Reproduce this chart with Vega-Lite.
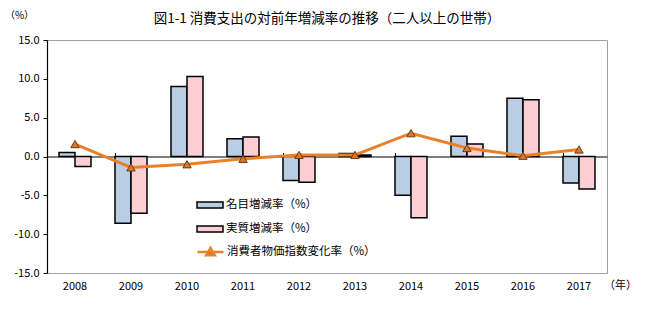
{
  "$schema": "https://vega.github.io/schema/vega-lite/v6.json",
  "width": 560,
  "height": 233,
  "autosize": "none",
  "padding": {"left": 47, "top": 40, "right": 53, "bottom": 49},
  "background": "white",
  "title": {
    "text": "図1-1  消費支出の対前年増減率の推移（二人以上の世帯）",
    "font": "Noto Sans CJK JP",
    "fontSize": 13.5,
    "fontWeight": "normal",
    "color": "black",
    "anchor": "middle",
    "frame": "group",
    "offset": -15
  },
  "config": {
    "view": {"stroke": "#A0A0A0", "strokeWidth": 1},
    "axis": {"labelFont": "Noto Sans CJK JP", "titleFont": "Noto Sans CJK JP", "labelColor": "black", "titleColor": "black", "grid": false, "labelOverlap": false},
    "legend": {"labelFont": "Noto Sans CJK JP", "labelFontSize": 11.5, "labelColor": "black", "padding": 0, "rowPadding": 10, "symbolSize": 169, "labelOffset": 8.5}
  },
  "datasets": {
    "bars": [
      {"year": "2008", "series": "名目増減率（%）", "value": 0.5},
      {"year": "2008", "series": "実質増減率（%）", "value": -1.3},
      {"year": "2009", "series": "名目増減率（%）", "value": -8.6},
      {"year": "2009", "series": "実質増減率（%）", "value": -7.3},
      {"year": "2010", "series": "名目増減率（%）", "value": 9.0},
      {"year": "2010", "series": "実質増減率（%）", "value": 10.3},
      {"year": "2011", "series": "名目増減率（%）", "value": 2.3},
      {"year": "2011", "series": "実質増減率（%）", "value": 2.5},
      {"year": "2012", "series": "名目増減率（%）", "value": -3.1},
      {"year": "2012", "series": "実質増減率（%）", "value": -3.3},
      {"year": "2013", "series": "名目増減率（%）", "value": 0.4},
      {"year": "2013", "series": "実質増減率（%）", "value": 0.2},
      {"year": "2014", "series": "名目増減率（%）", "value": -5.0},
      {"year": "2014", "series": "実質増減率（%）", "value": -7.9},
      {"year": "2015", "series": "名目増減率（%）", "value": 2.6},
      {"year": "2015", "series": "実質増減率（%）", "value": 1.6},
      {"year": "2016", "series": "名目増減率（%）", "value": 7.5},
      {"year": "2016", "series": "実質増減率（%）", "value": 7.3},
      {"year": "2017", "series": "名目増減率（%）", "value": -3.4},
      {"year": "2017", "series": "実質増減率（%）", "value": -4.2}
    ],
    "cpi": [
      {"year": "2008", "series": "消費者物価指数変化率（%）", "value": 1.6},
      {"year": "2009", "series": "消費者物価指数変化率（%）", "value": -1.4},
      {"year": "2010", "series": "消費者物価指数変化率（%）", "value": -1.0},
      {"year": "2011", "series": "消費者物価指数変化率（%）", "value": -0.3},
      {"year": "2012", "series": "消費者物価指数変化率（%）", "value": 0.2},
      {"year": "2013", "series": "消費者物価指数変化率（%）", "value": 0.2},
      {"year": "2014", "series": "消費者物価指数変化率（%）", "value": 3.0},
      {"year": "2015", "series": "消費者物価指数変化率（%）", "value": 1.1},
      {"year": "2016", "series": "消費者物価指数変化率（%）", "value": 0.1},
      {"year": "2017", "series": "消費者物価指数変化率（%）", "value": 0.9}
    ]
  },
  "layer": [
    {
      "data": {"name": "bars"},
      "mark": {"type": "bar", "stroke": "black", "strokeWidth": 1.5},
      "encoding": {
        "x": {
          "field": "year", "type": "nominal",
          "scale": {"paddingInner": 0.4286, "paddingOuter": 0.2143},
          "axis": {
            "orient": "bottom", "labelAngle": 0, "labelFontSize": 11, "labelPadding": 7,
            "ticks": false, "tickSize": 0, "domain": false,
            "title": "（年）", "titleFontSize": 11, "titleFontWeight": "normal",
            "titleX": 573, "titleY": 12, "titleAlign": "center", "titleBaseline": "middle", "titleAngle": 0
          }
        },
        "xOffset": {
          "field": "series", "type": "nominal",
          "sort": ["名目増減率（%）", "実質増減率（%）"],
          "scale": {"paddingInner": 0, "paddingOuter": 0}
        },
        "y": {
          "field": "value", "type": "quantitative",
          "scale": {"domain": [-15, 15], "nice": false, "zero": false},
          "axis": {
            "values": [-15, -10, -5, 0, 5, 10, 15],
            "labelExpr": "replace(format(datum.value, '.1f'), '−', '-')",
            "labelOverlap": false, "labelBound": false,
            "labelFontSize": 11, "labelPadding": 4, "tickSize": 4, "tickColor": "black",
            "domainColor": "black", "domainWidth": 1.2,
            "title": "（%）", "titleFontSize": 10, "titleFontWeight": "normal", "titleAngle": 0,
            "titleX": -28, "titleY": -25, "titleAlign": "center", "titleBaseline": "middle"
          }
        },
        "fill": {
          "field": "series", "type": "nominal",
          "scale": {"domain": ["名目増減率（%）", "実質増減率（%）"], "range": ["#B9CDE5", "#FBCFD3"]},
          "legend": {
            "title": null, "orient": "none", "legendX": 155.5, "legendY": 157.5,
            "symbolType": "M-2,-0.47H2V0.47H-2Z",
            "symbolStrokeColor": "black", "symbolStrokeWidth": 1.5, "symbolOpacity": 1
          }
        }
      }
    },
    {
      "data": {"name": "cpi"},
      "mark": {"type": "line", "strokeWidth": 3},
      "encoding": {
        "x": {"field": "year", "type": "nominal", "axis": null},
        "y": {
          "field": "value", "type": "quantitative",
          "axis": {
            "values": [-15, -10, -5, 0, 5, 10, 15],
            "labelExpr": "replace(format(datum.value, '.1f'), '−', '-')",
            "labelOverlap": false, "labelBound": false,
            "labelFontSize": 11, "labelPadding": 4, "tickSize": 4, "tickColor": "black",
            "domainColor": "black", "domainWidth": 1.2,
            "title": "（%）", "titleFontSize": 10, "titleFontWeight": "normal", "titleAngle": 0,
            "titleX": -28, "titleY": -25, "titleAlign": "center", "titleBaseline": "middle"
          }
        },
        "stroke": {
          "field": "series", "type": "nominal",
          "scale": {"domain": ["消費者物価指数変化率（%）"], "range": ["#E8822A"]},
          "legend": {
            "title": null, "orient": "none", "legendX": 155.5, "legendY": 204,
            "symbolType": "M-2,0H2M0,-0.62L0.66,0.5H-0.66Z",
            "symbolStrokeWidth": 2.5,
            "encode": {"symbols": {"update": {"fill": {"value": "#C8692A"}}}}
          }
        }
      }
    },
    {
      "data": {"name": "cpi"},
      "mark": {"type": "point", "shape": "triangle-up", "filled": true, "fill": "#D9772F", "stroke": "#6E3A12", "strokeWidth": 1, "size": 70, "opacity": 1},
      "encoding": {
        "x": {
          "field": "year", "type": "nominal",
          "axis": {
            "orient": "bottom", "offset": -116.5, "labels": false, "title": null,
            "domainColor": "black", "domainWidth": 1.2,
            "bandPosition": 0, "ticks": true, "tickSize": -4, "tickColor": "black", "tickWidth": 1
          }
        },
        "y": {
          "field": "value", "type": "quantitative",
          "axis": {
            "values": [-15, -10, -5, 0, 5, 10, 15],
            "labelExpr": "replace(format(datum.value, '.1f'), '−', '-')",
            "labelOverlap": false, "labelBound": false,
            "labelFontSize": 11, "labelPadding": 4, "tickSize": 4, "tickColor": "black",
            "domainColor": "black", "domainWidth": 1.2,
            "title": "（%）", "titleFontSize": 10, "titleFontWeight": "normal", "titleAngle": 0,
            "titleX": -28, "titleY": -25, "titleAlign": "center", "titleBaseline": "middle"
          }
        }
      }
    }
  ],
  "resolve": {"axis": {"x": "independent"}}
}
